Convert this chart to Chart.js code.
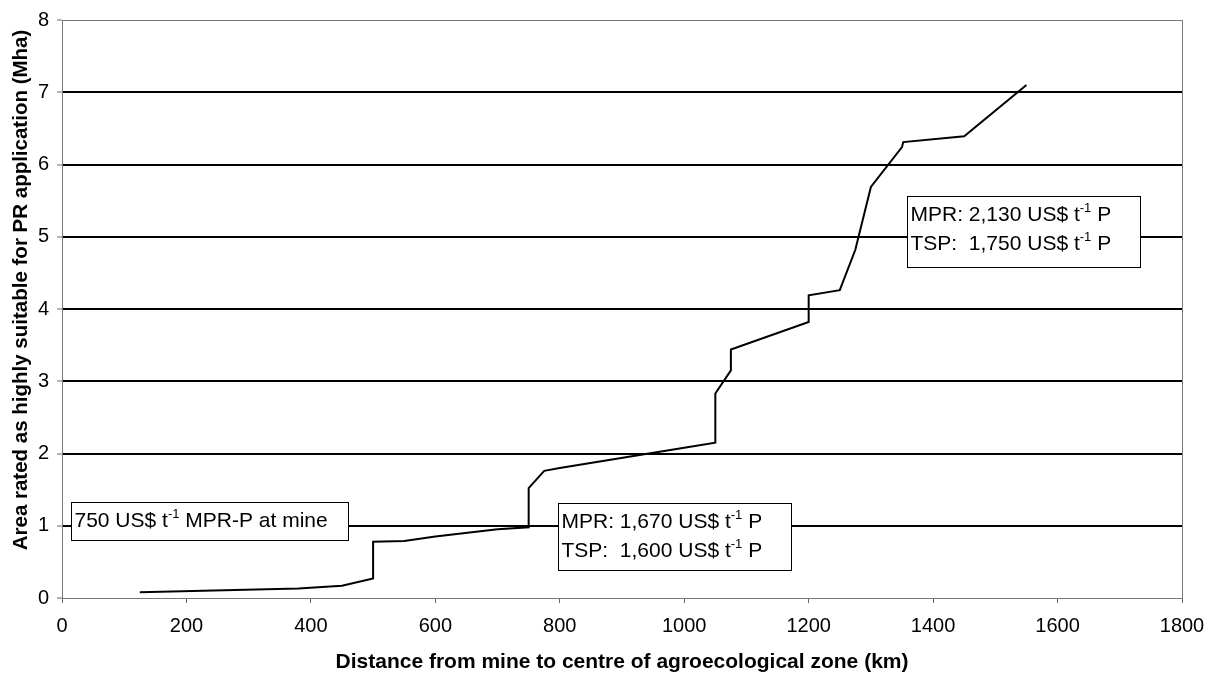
<!DOCTYPE html>
<html>
<head>
<meta charset="utf-8">
<script src="https://cdn.jsdelivr.net/npm/chart.js@4.4.1/dist/chart.umd.min.js"></script>
<style>
    html, body { margin: 0; padding: 0; background: #fff; }
    #wrap { width: 1210px; height: 673px; position: relative; }
</style>
</head>
<body>
<div id="wrap"><canvas id="areaChart"></canvas></div>
<script>
// distance (km) vs cumulative area (Mha)
const distances = [125, 380, 450, 500, 500, 550, 600, 700, 750, 750, 775, 800, 1000, 1050, 1050, 1075, 1075, 1200, 1200, 1250, 1275, 1300, 1350, 1352, 1450, 1550];
const areas = [0.08, 0.13, 0.17, 0.27, 0.78, 0.79, 0.85, 0.95, 0.98, 1.52, 1.76, 1.80, 2.08, 2.15, 2.83, 3.15, 3.44, 3.82, 4.19, 4.26, 4.82, 5.69, 6.24, 6.31, 6.39, 7.10];

const xTicks = [0, 200, 400, 600, 800, 1000, 1200, 1400, 1600, 1800];
const yTicks = [0, 1, 2, 3, 4, 5, 6, 7, 8];

const xTitle = 'Distance from mine to centre of agroecological zone (km)';
const yTitle = 'Area rated as highly suitable for PR application (Mha)';

// text pieces: [text, isSuperscript]
const noteMine = [[['750 US$ t', false], ['-1', true], [' MPR-P at mine', false]]];
const noteLow = [
    [['MPR: 1,670 US$ t', false], ['-1', true], [' P', false]],
    [['TSP:  1,600 US$ t', false], ['-1', true], [' P', false]]
];
const noteHigh = [
    [['MPR: 2,130 US$ t', false], ['-1', true], [' P', false]],
    [['TSP:  1,750 US$ t', false], ['-1', true], [' P', false]]
];

const FONT = '"Liberation Sans", Arial, sans-serif';

// box placement in axis units
const notes = [
    { lines: noteMine, x0: 14.5, x1: 460, y0: 1.33, y1: 0.80 },
    { lines: noteLow, x0: 797, x1: 1172, y0: 1.32, y1: 0.39 },
    { lines: noteHigh, x0: 1358, x1: 1733, y0: 5.56, y1: 4.58 }
];

function drawRich(ctx, segs, x, y) {
    let cx = x;
    segs.forEach(([t, sup]) => {
        ctx.font = sup ? '13px ' + FONT : '21px ' + FONT;
        ctx.fillText(t, cx, sup ? y - 9 : y);
        cx += ctx.measureText(t).width;
    });
}

const decorations = {
    id: 'decorations',
    afterDatasetsDraw(chart) {
        const ctx = chart.ctx;
        const xs = chart.scales.x, ys = chart.scales.y;
        ctx.save();
        notes.forEach(n => {
            const l = Math.round(xs.getPixelForValue(n.x0)) + 0.5;
            const r = Math.round(xs.getPixelForValue(n.x1)) + 0.5;
            const t = Math.round(ys.getPixelForValue(n.y0)) + 0.5;
            const b = Math.round(ys.getPixelForValue(n.y1)) + 0.5;
            ctx.fillStyle = '#fff';
            ctx.fillRect(l, t, r - l, b - t);
            ctx.strokeStyle = '#000';
            ctx.lineWidth = 1;
            ctx.strokeRect(l, t, r - l, b - t);
            ctx.fillStyle = '#000';
            ctx.textAlign = 'left';
            ctx.textBaseline = 'alphabetic';
            n.lines.forEach((segs, i) => drawRich(ctx, segs, l + 3, t + 24.5 + i * 29));
        });
        ctx.restore();
    },
    afterDraw(chart) {
        const ctx = chart.ctx;
        const a = chart.chartArea;
        ctx.save();
        ctx.strokeStyle = '#777';
        ctx.lineWidth = 1;
        ctx.strokeRect(Math.round(a.left) + 0.5, Math.round(a.top) + 0.5, Math.round(a.right - a.left), Math.round(a.bottom - a.top));

        ctx.fillStyle = '#000';
        ctx.font = 'bold 21px ' + FONT;
        ctx.textAlign = 'center';
        ctx.textBaseline = 'middle';
        ctx.fillText(xTitle, (a.left + a.right) / 2, 662);

        ctx.font = 'bold 20.5px ' + FONT;
        ctx.translate(21, 290);
        ctx.rotate(-Math.PI / 2);
        ctx.fillText(yTitle, 0, 0);
        ctx.restore();
    }
};

new Chart(document.getElementById('areaChart'), {
    type: 'scatter',
    data: {
        datasets: [{
            data: distances.map((d, i) => ({ x: d, y: areas[i] })),
            showLine: true,
            borderColor: '#000',
            borderWidth: 2,
            pointRadius: 0,
            tension: 0,
            fill: false
        }]
    },
    options: {
        responsive: true,
        maintainAspectRatio: false,
        animation: false,
        layout: { padding: { top: 20, right: 28, left: 0, bottom: 0 } },
        plugins: {
            legend: { display: false },
            tooltip: { enabled: false }
        },
        scales: {
            x: {
                type: 'linear',
                min: 0,
                max: 1800,
                afterBuildTicks: s => { s.ticks = xTicks.map(v => ({ value: v })); },
                afterFit: s => { s.height = 75; s.paddingRight = 0; s.paddingLeft = 0; },
                border: { display: false },
                grid: {
                    drawOnChartArea: false,
                    drawTicks: true,
                    tickLength: 5,
                    tickColor: '#666',
                    tickWidth: 1
                },
                ticks: {
                    color: '#000',
                    font: { family: FONT, size: 20 },
                    padding: 11,
                    maxRotation: 0,
                    callback: v => String(v)
                }
            },
            y: {
                type: 'linear',
                min: 0,
                max: 8,
                afterBuildTicks: s => { s.ticks = yTicks.map(v => ({ value: v })); },
                afterFit: s => { s.width = 62; },
                border: { display: false },
                grid: {
                    color: c => (c.tick && c.tick.value > 0 && c.tick.value < 8) ? '#000' : 'rgba(0,0,0,0)',
                    lineWidth: 2,
                    drawTicks: true,
                    tickLength: 5,
                    tickColor: '#666',
                    tickWidth: 1
                },
                ticks: {
                    color: '#000',
                    font: { family: FONT, size: 20 },
                    padding: 8,
                    callback: v => String(v)
                }
            }
        }
    },
    plugins: [decorations]
});
</script>
</body>
</html>
